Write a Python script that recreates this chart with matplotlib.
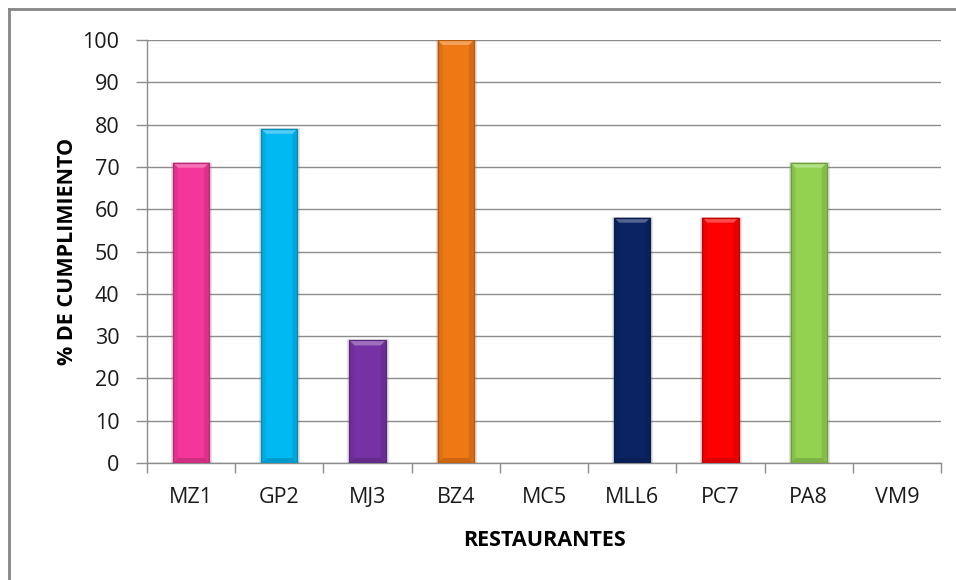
import matplotlib.pyplot as plt
from matplotlib.patches import Polygon
from matplotlib.lines import Line2D
import matplotlib.colors as mcolors

restaurants = ["MZ1", "GP2", "MJ3", "BZ4", "MC5", "MLL6", "PC7", "PA8", "VM9"]
cumplimiento = [71, 79, 29, 100, 0, 58, 58, 71, 0]
bar_colors = ["#F4369A", "#00B8F2", "#7632A4", "#F07814", "#7F7F7F",
              "#0B2363", "#FF0000", "#93D150", "#7F7F7F"]
y_ticks = list(range(0, 101, 10))

plt.rcParams["font.family"] = ["Open Sans", "DejaVu Sans"]


def shade(color, factor):
    r, g, b = mcolors.to_rgb(color)
    if factor >= 1:
        f = factor - 1
        return (r + (1 - r) * f, g + (1 - g) * f, b + (1 - b) * f)
    return (r * factor, g * factor, b * factor)


fig = plt.figure(figsize=(9.56, 5.8), dpi=100)
ax = fig.add_axes([0.1538, 0.2017, 0.8305, 0.7293])

ax.set_xlim(-0.5, len(restaurants) - 0.5)
ax.set_ylim(0, 100)

# pixel -> data scale for the bevel trims
fig.canvas.draw()
px_x = 1.0 / (ax.transData.transform((1, 0))[0] - ax.transData.transform((0, 0))[0])
px_y = 1.0 / (ax.transData.transform((0, 1))[1] - ax.transData.transform((0, 0))[1])

width = 0.41
bev_x = 5 * px_x
bev_y = 5 * px_y

for i, (v, c) in enumerate(zip(cumplimiento, bar_colors)):
    if v <= 0:
        continue
    x0, x1 = i - width / 2, i + width / 2
    # soft shadow
    ax.bar(i, v, width=width + 2 * px_x, color="none",
           edgecolor=(0.5, 0.5, 0.5, 0.25), linewidth=2, zorder=2)
    ax.bar(i, v, width=width, color=c, edgecolor="none", zorder=3)
    # bevel: side strips slightly darker
    ax.add_patch(Polygon([(x0, 0), (x0 + bev_x, bev_y), (x0 + bev_x, v - bev_y), (x0, v)],
                         closed=True, facecolor=shade(c, 0.93), edgecolor="none", zorder=4))
    ax.add_patch(Polygon([(x1, 0), (x1 - bev_x, bev_y), (x1 - bev_x, v - bev_y), (x1, v)],
                         closed=True, facecolor=shade(c, 0.9), edgecolor="none", zorder=4))
    # bevel: light top, dark bottom
    ax.add_patch(Polygon([(x0, v), (x1, v), (x1 - bev_x, v - bev_y), (x0 + bev_x, v - bev_y)],
                         closed=True, facecolor=shade(c, 1.3), edgecolor="none", zorder=4))
    ax.add_patch(Polygon([(x0, 0), (x1, 0), (x1 - bev_x, bev_y), (x0 + bev_x, bev_y)],
                         closed=True, facecolor=shade(c, 0.85), edgecolor="none", zorder=4))
    ax.bar(i, v, width=width, color="none", edgecolor=shade(c, 0.75),
           linewidth=0.9, zorder=5)

ax.set_yticks(y_ticks)
ax.set_yticklabels([str(t) for t in y_ticks], fontsize=15.5, color="#1a1a1a")
ax.yaxis.grid(True, color="#8C8C8C", linewidth=1.0)
ax.set_axisbelow(True)

ax.set_xticks(range(len(restaurants)))
ax.set_xticklabels(restaurants, fontsize=15.5, color="#1a1a1a")
ax.set_xticks([i - 0.5 for i in range(len(restaurants) + 1)], minor=True)
ax.tick_params(axis="x", which="major", length=0, pad=17)
ax.tick_params(axis="x", which="minor", length=7, width=1, color="#8C8C8C", direction="out")
ax.tick_params(axis="y", length=8, width=1, color="#8C8C8C", direction="out", pad=12)

for side in ["top", "right"]:
    ax.spines[side].set_visible(False)
for side in ["left", "bottom"]:
    ax.spines[side].set_color("#8C8C8C")
    ax.spines[side].set_linewidth(1.0)

ax.set_ylabel("% DE CUMPLIMIENTO", fontsize=15.5, fontweight="bold", labelpad=3)
ax.set_xlabel("RESTAURANTES", fontsize=15.5, fontweight="bold", labelpad=16)

# chart frame (left and top edges)
fig.add_artist(Line2D([8.5 / 956, 8.5 / 956], [0, 1 - 9 / 580],
                      transform=fig.transFigure, color="#858585", linewidth=2))
fig.add_artist(Line2D([8.5 / 956, 1], [1 - 9 / 580, 1 - 9 / 580],
                      transform=fig.transFigure, color="#858585", linewidth=2))

fig.savefig("out.png", dpi=100)
